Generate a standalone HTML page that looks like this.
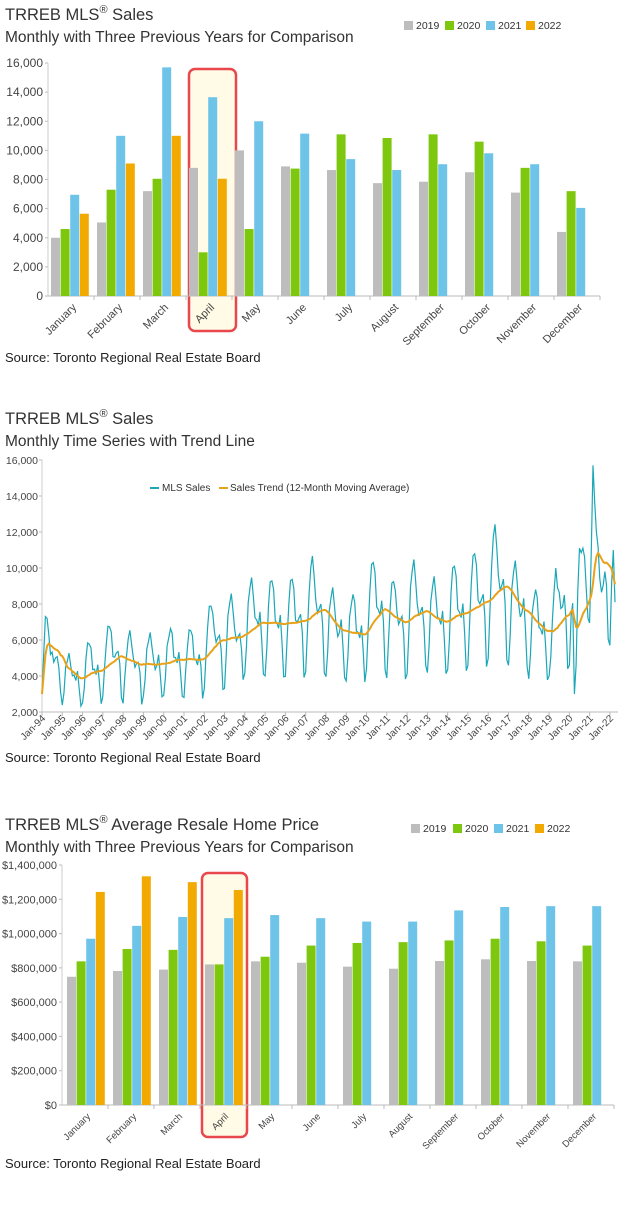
<!DOCTYPE html>
<html><head><meta charset="utf-8">
<style>
html,body{margin:0;padding:0;background:#fff;}
svg{display:block;font-family:"Liberation Sans",Arial,sans-serif;}
</style></head>
<body>
<svg id="s" width="622" height="1217" viewBox="0 0 622 1217" xmlns="http://www.w3.org/2000/svg"></svg>
<script>
var S=document.getElementById('s');var h='';
var C=['#bdbdbd','#7dc70f','#6ec3e8','#f2a900'];
var M=['January','February','March','April','May','June','July','August','September','October','November','December'];
function fmt(n){return n.toString().replace(/\B(?=(\d{3})+(?!\d))/g,',');}
function title(y,t1,t2){
 h+='<text x="5" y="'+y+'" font-size="16.5" fill="#333">'+t1+'</text>';
 h+='<text x="5" y="'+(y+22)+'" font-size="15.5" fill="#333">'+t2+'</text>';
}
function legend(xs,y){var yr=['2019','2020','2021','2022'];
 for(var i=0;i<4;i++){h+='<rect x="'+xs[i]+'" y="'+(y-8)+'" width="9" height="9" fill="'+C[i]+'"/><text x="'+(xs[i]+12)+'" y="'+y+'" font-size="10.5" fill="#333">'+yr[i]+'</text>';}
}
function bars(o){
 h+='<rect x="'+o.hx+'" y="'+o.hy+'" width="'+o.hw+'" height="'+o.hh+'" rx="6" fill="#fffbe6" stroke="#e8474c" stroke-width="2.5"/>';
 for(var k=0;k<=o.steps;k++){var v=k*o.step;var y=o.y0-v*o.sc;
  h+='<text x="'+(o.ax-5)+'" y="'+(y+4)+'" font-size="'+o.fs+'" fill="#444" text-anchor="end">'+o.lab(v)+'</text>';
  h+='<line x1="'+(o.ax-3)+'" x2="'+o.ax+'" y1="'+y+'" y2="'+y+'" stroke="#bbb"/>';}
 h+='<line x1="'+o.ax+'" x2="'+o.ax+'" y1="'+(o.y0-o.steps*o.step*o.sc)+'" y2="'+o.y0+'" stroke="#ccc"/>';
 h+='<line x1="'+o.ax+'" x2="'+(o.ax+46*12)+'" y1="'+o.y0+'" y2="'+o.y0+'" stroke="#bbb"/>';
 for(var i=0;i<12;i++){var gx=o.gx+46*i;
  for(var s=0;s<4;s++){var v=o.d[s][i];if(v==null)continue;var bh=v*o.sc;
   h+='<rect x="'+(gx+s*9.6)+'" y="'+(o.y0-bh)+'" width="9" height="'+bh+'" fill="'+C[s]+'"/>';}
  var cx=o.ax+46*i+23;
  h+='<line x1="'+(o.ax+46*(i+1))+'" x2="'+(o.ax+46*(i+1))+'" y1="'+o.y0+'" y2="'+(o.y0+4)+'" stroke="#bbb"/>';
  h+='<text transform="translate('+(cx+6)+','+(o.y0+12)+') rotate(-45)" font-size="'+o.mfs+'" fill="#444" text-anchor="end">'+M[i]+'</text>';
 }
}
title(20,'TRREB MLS<tspan font-size="11" dy="-7">®</tspan><tspan dy="7"> Sales</tspan>','Monthly with Three Previous Years for Comparison');
legend([404,445,486,526],29);
var d1=[[4000,5050,7200,8800,10000,8900,8650,7750,7850,8500,7100,4400],
[4600,7300,8050,3000,4600,8750,11100,10850,11100,10600,8800,7200],
[6950,11000,15700,13650,12000,11150,9400,8650,9050,9800,9050,6050],
[5650,9100,11000,8050,null,null,null,null,null,null,null,null]];
bars({hx:189,hy:69,hw:47,hh:262,ax:48,gx:51,y0:296,sc:233/16000,steps:8,step:2000,fs:12,mfs:11,lab:function(v){return fmt(v)},d:d1});
h+='<text x="5" y="362" font-size="13" fill="#222">Source: Toronto Regional Real Estate Board</text>';
title(424,'TRREB MLS<tspan font-size="11" dy="-7">®</tspan><tspan dy="7"> Sales</tspan>','Monthly Time Series with Trend Line');
var X0=42,X1=615,Y2=712,sc2=(712-460)/14000;
for(var k=0;k<=7;k++){var v=2000+k*2000;var y=Y2-(v-2000)*sc2;
 h+='<text x="38" y="'+(y+4)+'" font-size="10.5" fill="#444" text-anchor="end">'+fmt(v)+'</text><line x1="39" x2="42" y1="'+y+'" y2="'+y+'" stroke="#bbb"/>';}
h+='<line x1="42" x2="42" y1="460" y2="712" stroke="#ccc"/><line x1="42" x2="618" y1="712" y2="712" stroke="#bbb"/>';
var N=340,dx=(X1-X0)/(N-1);
for(var yy=0;yy<=28;yy++){var x=X0+yy*12*dx;var l='Jan-'+(''+((94+yy)%100+100)).slice(1);
 h+='<line x1="'+x+'" x2="'+x+'" y1="712" y2="716" stroke="#bbb"/>';
 h+='<text transform="translate('+(x+4)+',719) rotate(-45)" font-size="10" fill="#444" text-anchor="end">'+l+'</text>';}
var A=[5000,3850,4300,5100,4650,4650,4900,4900,6000,6200,6950,6900,7050,7700,6500,6300,7700,7000,7600,7000,7500,8100,9000,7600,6500];
var F=[0.55,0.8,1.1,1.25,1.3,1.2,1.0,0.95,0.95,1.02,0.85,0.55];var fs=0;F.forEach(function(a){fs+=a});
var ser=[];
for(var y=0;y<25;y++)for(var m=0;m<12;m++){var j=((y*7+m*13)%9-4)*60;ser.push(A[y]*F[m]*12/fs+j);}
ser[0]=3000;ser[1]=5200;ser[2]=7300;ser[3]=7200;ser[4]=6300;ser[5]=5200;
d1[0].forEach(function(v){ser.push(v)});d1[1].forEach(function(v){ser.push(v)});d1[2].forEach(function(v){ser.push(v)});
ser.push(5700,9100,11000,8100);
function P(a){var p='';for(var i=0;i<a.length;i++){p+=(i?'L':'M')+(X0+i*dx).toFixed(1)+' '+(Y2-(a[i]-2000)*sc2).toFixed(1);}return p;}
var tr=[];for(var i=0;i<ser.length;i++){var s0=Math.max(0,i-11),t=0;for(var j=s0;j<=i;j++)t+=ser[j];tr.push(t/(i-s0+1));}
h+='<path d="'+P(ser)+'" fill="none" stroke="#1aa7b8" stroke-width="1.2"/>';
h+='<path d="'+P(tr)+'" fill="none" stroke="#e8a21a" stroke-width="2"/>';
h+='<line x1="150" x2="159" y1="488" y2="488" stroke="#1aa7b8" stroke-width="2"/><text x="162" y="491" font-size="10" fill="#333">MLS Sales</text>';
h+='<line x1="219" x2="228" y1="488" y2="488" stroke="#e8a21a" stroke-width="2"/><text x="230" y="491" font-size="10" fill="#333">Sales Trend (12-Month Moving Average)</text>';
h+='<text x="5" y="762" font-size="13" fill="#222">Source: Toronto Regional Real Estate Board</text>';
title(830,'TRREB MLS<tspan font-size="11" dy="-7">®</tspan><tspan dy="7"> Average Resale Home Price</tspan>','Monthly with Three Previous Years for Comparison');
legend([411,453,494,535],832);
var d3=[[748,782,790,820,838,830,807,795,840,850,840,838],
[838,910,905,820,865,930,945,950,960,970,955,930],
[970,1045,1097,1090,1108,1090,1070,1070,1135,1155,1160,1160],
[1243,1334,1300,1254,null,null,null,null,null,null,null,null]];
bars({hx:202,hy:873,hw:45,hh:264,ax:62,gx:67,y0:1105,sc:240/1400,steps:7,step:200,fs:11,mfs:9.5,lab:function(v){return '$'+(v?fmt(v*1000):'0')},d:d3});
h+='<text x="5" y="1168" font-size="13" fill="#222">Source: Toronto Regional Real Estate Board</text>';
S.innerHTML=h;
</script>
</body></html>
